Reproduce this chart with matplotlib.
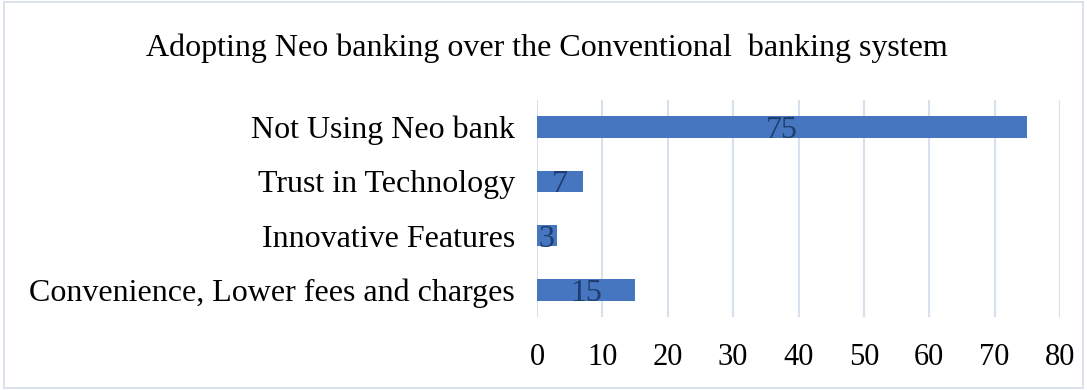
import matplotlib.pyplot as plt
import numpy as np

# データ
categories = ["Convenience, Lower fees and charges", "Innovative Features",
              "Trust in Technology", "Not Using Neo bank"]
values = [15, 3, 7, 75]
xticks = [0, 10, 20, 30, 40, 50, 60, 70, 80]

plt.rcParams['font.family'] = ['Liberation Serif', 'DejaVu Serif']

fig = plt.figure(figsize=(10.87, 3.9), dpi=100)
ax = fig.add_axes([537 / 1087, 1 - 317 / 390, (1060 - 537) / 1087, (317 - 100) / 390])

y = np.arange(len(categories))
ax.barh(y, values, height=0.4, color="#4676c0", zorder=3)

# バーの中央に値
for yi, v in zip(y, values):
    ax.text(v / 2, yi, str(v), ha="center", va="center_baseline", fontsize=23,
            color="#1f3d6e", zorder=4)

ax.set_xlim(0, 80)
ax.set_ylim(-0.5, 3.5)
ax.set_xticks(xticks)
ax.set_yticks(y)
ax.set_yticklabels(categories, fontsize=23)
ax.tick_params(axis="x", labelsize=22, length=0, pad=19)
ax.tick_params(axis="y", length=0, pad=16)
ax.grid(axis="x", color="#d6e0ef", linewidth=1.5, zorder=0)
for s in ax.spines.values():
    s.set_visible(False)

fig.text(547 / 1087, 1 - 48 / 390, "Adopting Neo banking over the Conventional  banking system",
         ha="center", va="center", fontsize=23)

# 外枠
fig.patches.append(plt.Rectangle((0.004, 0.005), 0.992, 0.99, transform=fig.transFigure,
                                 fill=False, edgecolor="#d5dde8", linewidth=1.2))

fig.savefig("out.png", dpi=100)
